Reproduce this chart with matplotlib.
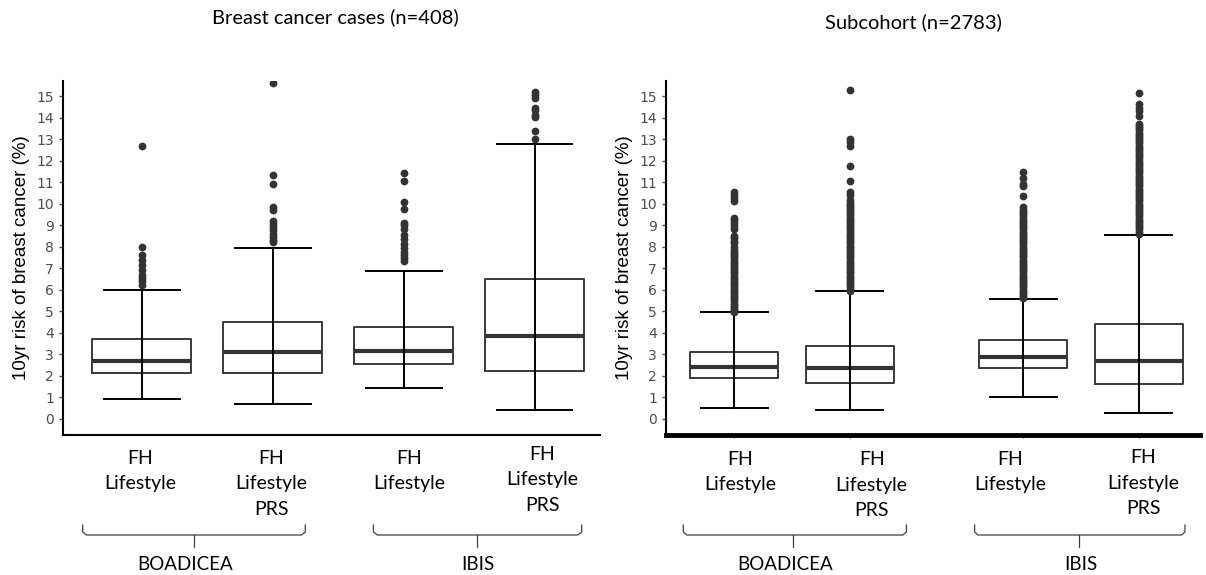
import numpy as np
import matplotlib
matplotlib.use("Agg")
from matplotlib import pyplot as plt
from matplotlib import transforms
from matplotlib.lines import Line2D

# box statistics (10yr risk, %)
# panel 1: breast cancer cases (n=408)
case_whislo = [0.93, 0.66, 1.44, 0.42]
case_q1 = [2.10, 2.10, 2.54, 2.23]
case_med = [2.66, 3.11, 3.15, 3.82]
case_q3 = [3.71, 4.50, 4.28, 6.51]
case_whishi = [6.00, 7.92, 6.88, 12.77]
case_fliers = [
    [6.23, 6.39, 6.54, 6.70, 6.93, 7.16, 7.39, 7.62, 8.00, 12.68],
    [8.20, 8.30, 8.45, 8.60, 8.75, 8.90, 9.05, 9.20, 9.70, 9.85, 10.89, 11.33, 15.62],
    [7.35, 7.45, 7.60, 7.75, 7.95, 8.10, 8.35, 8.55, 8.80, 9.00, 9.10, 9.74, 10.08, 11.06, 11.40],
    [13.00, 13.38, 14.01, 14.10, 14.35, 14.46, 14.92, 15.05, 15.17],
]

# panel 2: subcohort (n=2783)
sub_whislo = [0.50, 0.40, 1.01, 0.25]
sub_q1 = [1.89, 1.66, 2.37, 1.63]
sub_med = [2.42, 2.34, 2.89, 2.70]
sub_q3 = [3.12, 3.37, 3.68, 4.41]
sub_whishi = [4.95, 5.94, 5.58, 8.56]
sub_fliers = [
    [4.95, 5.05, 5.15, 5.25, 5.35, 5.45, 5.55, 5.65, 5.75, 5.85, 5.95, 6.05,
     6.15, 6.25, 6.35, 6.45, 6.55, 6.65, 6.75, 6.85, 6.95, 7.05, 7.15, 7.25,
     7.35, 7.45, 7.55, 7.65, 7.75, 7.85, 8.00, 8.15, 8.27, 8.40, 8.50, 8.80,
     8.95, 9.10, 9.25, 9.35, 10.13, 10.25, 10.38, 10.55],
    [5.95, 6.05, 6.15, 6.25, 6.35, 6.45, 6.55, 6.65, 6.75, 6.85, 6.95, 7.05,
     7.15, 7.25, 7.35, 7.45, 7.55, 7.65, 7.75, 7.85, 7.95, 8.05, 8.15, 8.25,
     8.35, 8.45, 8.55, 8.65, 8.75, 8.85, 8.95, 9.05, 9.15, 9.25, 9.35, 9.45,
     9.55, 9.65, 9.75, 9.85, 9.95, 10.05, 10.15, 10.40, 10.55, 11.04, 11.77,
     12.70, 12.85, 13.00, 15.26],
    [5.60, 5.70, 5.80, 5.90, 6.00, 6.10, 6.20, 6.30, 6.40, 6.50, 6.60, 6.70,
     6.80, 6.90, 7.00, 7.10, 7.20, 7.30, 7.40, 7.50, 7.60, 7.70, 7.80, 7.90,
     8.00, 8.10, 8.20, 8.30, 8.40, 8.50, 8.60, 8.70, 8.80, 8.90, 9.00, 9.10,
     9.20, 9.30, 9.40, 9.50, 9.60, 9.70, 9.85, 10.35, 10.80, 10.90, 11.20, 11.49],
    [8.60, 8.70, 8.80, 8.90, 9.00, 9.10, 9.20, 9.30, 9.40, 9.50, 9.60, 9.70,
     9.80, 9.90, 10.00, 10.10, 10.20, 10.30, 10.40, 10.50, 10.60, 10.70, 10.80,
     10.90, 11.00, 11.10, 11.20, 11.30, 11.40, 11.50, 11.60, 11.70, 11.80,
     11.90, 12.00, 12.10, 12.20, 12.30, 12.40, 12.50, 12.60, 12.70, 12.80,
     12.90, 13.00, 13.10, 13.20, 13.30, 13.40, 13.50, 13.60, 13.70, 14.05,
     14.30, 14.44, 14.63, 15.15],
]

categories = ["FH\nLifestyle", "FH\nLifestyle\nPRS", "FH\nLifestyle", "FH\nLifestyle\nPRS"]
groups = ["BOADICEA", "IBIS"]
titles = ["Breast cancer cases (n=408)", "Subcohort (n=2783)"]
ylabel = "10yr risk of breast cancer (%)"
yticks = list(range(0, 16))

W, H = 1206, 575
fig = plt.figure(figsize=(W / 100, H / 100), dpi=100)


def fy(py):
    return 1 - py / H


def make_panel(rect, pos, whislo, q1, med, q3, whishi, fliers, spine_w, xlim,
               label_x, label_y, brace_x, brace_mid, group_x, title, title_xy):
    ax = fig.add_axes(rect)
    stats = []
    for i in range(len(pos)):
        stats.append(dict(whislo=whislo[i], q1=q1[i], med=med[i], q3=q3[i],
                          whishi=whishi[i], fliers=fliers[i]))
    ax.bxp(stats, positions=pos, widths=0.76, showcaps=True, manage_ticks=False,
           boxprops=dict(color="#3a3a3a", linewidth=1.4),
           medianprops=dict(color="#333333", linewidth=3.0),
           whiskerprops=dict(color="black", linewidth=1.4),
           capprops=dict(color="black", linewidth=1.4),
           capwidths=0.58,
           flierprops=dict(marker="o", markerfacecolor="#333333",
                           markeredgecolor="#333333", markersize=4.6))
    # errorbar style whisker runs through the box
    ax.vlines(pos, q1, q3, color="black", linewidth=1.4, zorder=3)

    ax.set_xlim(*xlim)
    ax.set_ylim(-0.76, 15.7)
    ax.set_yticks(yticks)
    ax.set_xticks(pos)
    ax.set_xticklabels([])
    for s in ["top", "right"]:
        ax.spines[s].set_visible(False)
    ax.spines["left"].set_linewidth(1.5)
    ax.spines["bottom"].set_linewidth(spine_w)
    ax.tick_params(axis="y", length=3, width=1, color="#4d4d4d", pad=3.5,
                   labelsize=10, labelcolor="#4d4d4d")
    ax.tick_params(axis="x", length=2.5 if spine_w > 2 else 0, width=0.8,
                   color="#4d4d4d")
    ax.text(-0.077, 0.5, ylabel, transform=ax.transAxes, rotation=90,
            ha="center", va="center", fontsize=13.5, family="Liberation Sans")

    tr = transforms.blended_transform_factory(ax.transData, fig.transFigure)
    for lx, ly, txt in zip(label_x, label_y, categories):
        ax.text(lx, fy(ly), txt, transform=tr, ha="center", va="center",
                fontsize=14, family="Lato", linespacing=1.62, clip_on=False)

    for (x0, x1), xm, gx, g in zip(brace_x, brace_mid, group_x, groups):
        bx = [x0, x0, x0 + 0.03, x1 - 0.03, x1, x1]
        by = [fy(525), fy(532), fy(535), fy(535), fy(532), fy(525)]
        fig.add_artist(Line2D(bx, by, transform=tr, color="#404040", linewidth=0.9))
        fig.add_artist(Line2D([xm, xm], [fy(535), fy(547)], transform=tr,
                              color="#404040", linewidth=0.9))
        ax.text(gx, fy(564), g, transform=tr, ha="center", va="center",
                fontsize=13.5, family="Lato", clip_on=False)

    fig.text(title_xy[0] / W, fy(title_xy[1]), title, ha="center", va="center",
             fontsize=14.5, family="Lato")
    return ax


make_panel([63 / W, fy(435), (600 - 63) / W, (435 - 81) / H],
           [1, 2, 3, 4], case_whislo, case_q1, case_med, case_q3, case_whishi,
           case_fliers, 1.5, (0.40, 4.50),
           [0.99, 1.99, 3.04, 4.06], [471, 484, 471, 480],
           [(0.55, 2.25), (2.77, 4.36)], [1.40, 3.56], [1.335, 3.57],
           titles[0], (335, 17))

make_panel([666 / W, fy(435), (1200 - 666) / W, (435 - 81) / H],
           [1, 2, 3.5, 4.5], sub_whislo, sub_q1, sub_med, sub_q3, sub_whishi,
           sub_fliers, 3.5, (0.41, 5.03),
           [1.05, 2.19, 3.39, 4.54], [472, 485, 472, 483],
           [(0.56, 2.49), (3.08, 4.90)], [1.51, 3.98], [1.44, 4.00],
           titles[1], (913, 22))

fig.savefig("out.png", dpi=100)
